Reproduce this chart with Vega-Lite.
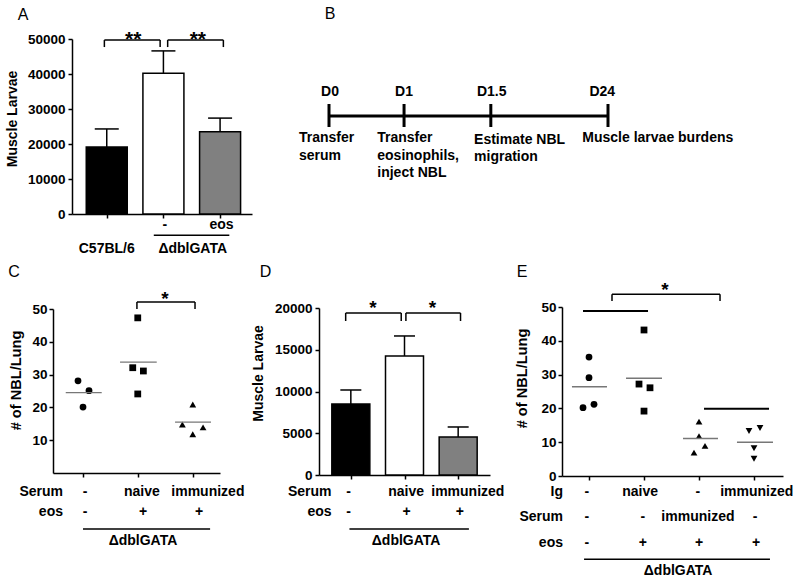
{
"$schema": "https://vega.github.io/schema/vega-lite/v6.json",
"width": 800, "height": 583, "autosize": {"type": "none"}, "padding": 0,
"config": {"view": {"stroke": null}, "font": "Liberation Sans",
 "axis": {"grid": false, "domainColor": "#000", "domainWidth": 1.5, "tickColor": "#000", "tickWidth": 1.5, "tickSize": 4,
  "labelFont": "Liberation Sans", "labelFontSize": 13.5, "labelFontWeight": "bold", "labelColor": "#000", "labelPadding": 2,
  "titleFont": "Liberation Sans", "titleFontSize": 14, "titleFontWeight": "bold", "titleColor": "#000"}},
"datasets": {
 "aBars": [{"g":"C57BL/6","x":1,"y":19140,"e":24300},{"g":"-","x":2,"y":40200,"e":46600},{"g":"eos","x":3,"y":23500,"e":27400}],
 "aBr": [{"x1":0.958,"x2":1.942,"yt":49700,"yb":47700},{"x1":2.075,"x2":3.058,"yt":49700,"yb":47700}],
 "aStar": [{"x":1.467,"y":49850,"t":"**"},{"x":2.608,"y":49850,"t":"**"}],
 "aTxt": [{"x":2.025,"y":-3140,"t":"-"},{"x":3.025,"y":-3140,"t":"eos"},{"x":1.0,"y":-9900,"t":"C57BL/6"},{"x":2.517,"y":-9900,"t":"ΔdblGATA"}],
 "aLine": [{"x1":1.83,"x2":3.163,"y":-6100}],
 "aLet": [{"x":-0.475,"y":56860,"t":"A"}],
 "bLine": [{"x1":0,"x2":100,"y":42}],
 "bTicks": [{"x":0,"y1":36.5,"y2":48},{"x":26.9,"y1":36.5,"y2":48},{"x":58.0,"y1":36.5,"y2":48},{"x":100,"y1":36.5,"y2":48}],
 "bLab": [{"x":0.36,"y":54,"t":"D0"},{"x":26.9,"y":54,"t":"D1"},{"x":58.3,"y":54,"t":"D1.5"},{"x":97.95,"y":54,"t":"D24"}],
 "bDesc": [{"x":-10.75,"y":31,"t":"Transfer"},{"x":-10.75,"y":22,"t":"serum"},{"x":17.3,"y":31,"t":"Transfer"},{"x":17.3,"y":22,"t":"eosinophils,"},{"x":17.3,"y":13.5,"t":"inject NBL"},{"x":52.0,"y":30,"t":"Estimate NBL"},{"x":52.0,"y":21.5,"t":"migration"},{"x":90.8,"y":31,"t":"Muscle larvae burdens"}],
 "bLet": [{"x":0.36,"y":93,"t":"B"}],
 "cPts": [{"x":0.909,"y":28.1,"s":"circle"},{"x":1.109,"y":25.1,"s":"circle"},{"x":1.0,"y":20.1,"s":"circle"},
  {"x":1.995,"y":47.3,"s":"square"},{"x":1.904,"y":32.1,"s":"square"},{"x":2.097,"y":31.1,"s":"square"},{"x":1.995,"y":24.1,"s":"square"},
  {"x":2.995,"y":20.9,"s":"triangle-up"},{"x":2.806,"y":14.8,"s":"triangle-up"},{"x":2.995,"y":11.8,"s":"triangle-up"},{"x":3.182,"y":13.9,"s":"triangle-up"}],
 "cMean": [{"x1":0.686,"x2":1.34,"y":24.5},{"x1":1.673,"x2":2.34,"y":33.8},{"x1":2.673,"x2":3.327,"y":15.5}],
 "cBr": [{"x1":1.98,"x2":3.036,"yt":52.1,"yb":50.0}],
 "cStar": [{"x":2.49,"y":53.2,"t":"*"}],
 "cRow": [{"x":0.636,"y":-5.8,"t":"Serum"},{"x":0.636,"y":-11.9,"t":"eos"}],
 "cTxt": [{"x":1.036,"y":-5.8,"t":"-"},{"x":2.07,"y":-5.8,"t":"naive"},{"x":3.27,"y":-5.8,"t":"immunized"},{"x":1.036,"y":-11.9,"t":"-"},{"x":2.09,"y":-11.9,"t":"+"},{"x":3.11,"y":-11.9,"t":"+"},{"x":2.09,"y":-20.7,"t":"ΔdblGATA"}],
 "cLine": [{"x1":1.0,"x2":3.31,"y":-17.1}],
 "cLet": [{"x":-0.255,"y":61.3,"t":"C"}],
 "dBars": [{"g":"a","x":1,"y":8500,"e":10180},{"g":"b","x":2,"y":14250,"e":16650},{"g":"c","x":3,"y":4550,"e":5750}],
 "dBr": [{"x1":0.904,"x2":1.939,"yt":19400,"yb":18440},{"x1":2.026,"x2":3.044,"yt":19400,"yb":18440}],
 "dStar": [{"x":1.41,"y":20000,"t":"*"},{"x":2.52,"y":20000,"t":"*"}],
 "dRow": [{"x":0.64,"y":-2040,"t":"Serum"},{"x":0.64,"y":-4430,"t":"eos"}],
 "dTxt": [{"x":0.956,"y":-2040,"t":"-"},{"x":2.03,"y":-2040,"t":"naive"},{"x":3.18,"y":-2040,"t":"immunized"},{"x":0.956,"y":-4430,"t":"-"},{"x":2.04,"y":-4430,"t":"+"},{"x":3.03,"y":-4430,"t":"+"},{"x":2.03,"y":-7900,"t":"ΔdblGATA"}],
 "dLine": [{"x1":0.974,"x2":3.2,"y":-6470}],
 "dLet": [{"x":-0.588,"y":24300,"t":"D"}],
 "ePts": [{"x":1.0,"y":35.2,"s":"circle"},{"x":1.0,"y":29.1,"s":"circle"},{"x":0.891,"y":20.2,"s":"circle"},{"x":1.091,"y":21.2,"s":"circle"},
  {"x":2.0,"y":43.2,"s":"square"},{"x":1.909,"y":27.2,"s":"square"},{"x":2.109,"y":26.1,"s":"square"},{"x":2.0,"y":19.2,"s":"square"},
  {"x":3.0,"y":16.1,"s":"triangle-up"},{"x":3.0,"y":11.8,"s":"triangle-up"},{"x":3.109,"y":8.9,"s":"triangle-up"},{"x":2.909,"y":6.9,"s":"triangle-up"},
  {"x":3.909,"y":13.3,"s":"triangle-down"},{"x":4.109,"y":14.2,"s":"triangle-down"},{"x":4.0,"y":8.2,"s":"triangle-down"},{"x":4.0,"y":5.1,"s":"triangle-down"}],
 "eMean": [{"x1":0.69,"x2":1.327,"y":26.4},{"x1":1.673,"x2":2.327,"y":28.9},{"x1":2.709,"x2":3.345,"y":11.1},{"x1":3.69,"x2":4.345,"y":10.0}],
 "eLines": [{"x1":0.891,"x2":2.073,"y":48.8},{"x1":3.091,"x2":4.273,"y":19.9}],
 "eLine": [{"x1":0.91,"x2":4.29,"y":-24.6}],
 "eBr": [{"x1":1.418,"x2":3.382,"yt":53.8,"yb":51.8}],
 "eStar": [{"x":2.38,"y":55.0,"t":"*"}],
 "eRow": [{"x":0.527,"y":-4.73,"t":"Ig"},{"x":0.527,"y":-12.1,"t":"Serum"},{"x":0.527,"y":-19.8,"t":"eos"}],
 "eTxt": [{"x":0.96,"y":-4.73,"t":"-"},{"x":1.93,"y":-4.73,"t":"naive"},{"x":2.98,"y":-4.73,"t":"-"},{"x":4.05,"y":-4.73,"t":"immunized"},
  {"x":0.96,"y":-12.1,"t":"-"},{"x":1.98,"y":-12.1,"t":"-"},{"x":2.98,"y":-12.1,"t":"immunized"},{"x":4.02,"y":-12.1,"t":"-"},
  {"x":0.96,"y":-19.8,"t":"-"},{"x":1.98,"y":-19.8,"t":"+"},{"x":3.0,"y":-19.8,"t":"+"},{"x":4.04,"y":-19.8,"t":"+"},
  {"x":2.62,"y":-28.1,"t":"ΔdblGATA"}],
 "eLet": [{"x":-0.218,"y":60.4,"t":"E"}]
},
"layer": [
 {"layer": [
  {"data":{"name":"aBars"},"mark":{"type":"bar","orient":"vertical","width":41,"stroke":"#000","strokeWidth":1.5},
   "encoding":{
    "x":{"field":"x","type":"quantitative","scale":{"domain":[0.475,3.475],"range":[72,252],"nice":false,"zero":false},
      "axis":{"orient":"bottom","offset":-369,"values":[1,2,3],"labels":false,"title":null}},
    "y":{"field":"y","type":"quantitative","scale":{"domain":[0,50000],"range":[214,39],"nice":false,"zero":true},
      "axis":{"orient":"left","offset":-72,"values":[0,10000,20000,30000,40000,50000],"format":"d","title":"Muscle Larvae","titleX":-60,"titleY":118.5,"titleAngle":-90,"titleAlign":"center","titleBaseline":"middle","labelPadding":3}},
    "fill":{"field":"g","type":"nominal","scale":{"domain":["C57BL/6","-","eos"],"range":["#000000","#ffffff","#808080"]},"legend":null}}},
  {"data":{"name":"aBars"},"mark":{"type":"rule","color":"#000","strokeWidth":1.5},
   "encoding":{"x":{"field":"x","type":"quantitative"},"y":{"field":"y","type":"quantitative"},"y2":{"field":"e"}}},
  {"data":{"name":"aBars"},"mark":{"type":"tick","orient":"horizontal","size":24,"thickness":1.5,"color":"#000","opacity":1},
   "encoding":{"x":{"field":"x","type":"quantitative"},"y":{"field":"e","type":"quantitative"}}},
  {"data":{"name":"aBr"},"mark":{"type":"rule","color":"#000","strokeWidth":1.5},
   "encoding":{"x":{"field":"x1","type":"quantitative"},"x2":{"field":"x2"},"y":{"field":"yt","type":"quantitative"}}},
  {"data":{"name":"aBr"},"mark":{"type":"rule","color":"#000","strokeWidth":1.5},
   "encoding":{"x":{"field":"x1","type":"quantitative"},"y":{"field":"yb","type":"quantitative"},"y2":{"field":"yt"}}},
  {"data":{"name":"aBr"},"mark":{"type":"rule","color":"#000","strokeWidth":1.5},
   "encoding":{"x":{"field":"x2","type":"quantitative"},"y":{"field":"yb","type":"quantitative"},"y2":{"field":"yt"}}},
  {"data":{"name":"aStar"},"mark":{"type":"text","fontSize":21,"fontWeight":"bold","align":"center","baseline":"middle","color":"#000"},
   "encoding":{"x":{"field":"x","type":"quantitative"},"y":{"field":"y","type":"quantitative"},"text":{"field":"t"}}},
  {"data":{"name":"aTxt"},"mark":{"type":"text","fontSize":14,"fontWeight":"bold","align":"center","baseline":"middle","color":"#000"},
   "encoding":{"x":{"field":"x","type":"quantitative"},"y":{"field":"y","type":"quantitative"},"text":{"field":"t"}}},
  {"data":{"name":"aLine"},"mark":{"type":"rule","color":"#000","strokeWidth":1.5},
   "encoding":{"x":{"field":"x1","type":"quantitative"},"x2":{"field":"x2"},"y":{"field":"y","type":"quantitative"}}},
  {"data":{"name":"aLet"},"mark":{"type":"text","fontSize":16,"fontWeight":"normal","align":"center","baseline":"middle","color":"#000"},
   "encoding":{"x":{"field":"x","type":"quantitative"},"y":{"field":"y","type":"quantitative"},"text":{"field":"t"}}}
 ]},
 {"layer": [
  {"data":{"name":"bLine"},"mark":{"type":"rule","color":"#000","strokeWidth":3},
   "encoding":{"x":{"field":"x1","type":"quantitative","scale":{"domain":[0,100],"range":[329,608],"nice":false,"zero":false},"axis":null},
    "x2":{"field":"x2"},
    "y":{"field":"y","type":"quantitative","scale":{"domain":[0,100],"range":[200,0],"nice":false,"zero":false},"axis":null}}},
  {"data":{"name":"bTicks"},"mark":{"type":"rule","color":"#000","strokeWidth":3},
   "encoding":{"x":{"field":"x","type":"quantitative","axis":null},"y":{"field":"y1","type":"quantitative","axis":null},"y2":{"field":"y2"}}},
  {"data":{"name":"bLab"},"mark":{"type":"text","fontSize":14,"fontWeight":"bold","align":"center","baseline":"middle","color":"#000"},
   "encoding":{"x":{"field":"x","type":"quantitative","axis":null},"y":{"field":"y","type":"quantitative","axis":null},"text":{"field":"t"}}},
  {"data":{"name":"bDesc"},"mark":{"type":"text","fontSize":14,"fontWeight":"bold","align":"left","baseline":"middle","color":"#000"},
   "encoding":{"x":{"field":"x","type":"quantitative","axis":null},"y":{"field":"y","type":"quantitative","axis":null},"text":{"field":"t"}}},
  {"data":{"name":"bLet"},"mark":{"type":"text","fontSize":16,"fontWeight":"normal","align":"center","baseline":"middle","color":"#000"},
   "encoding":{"x":{"field":"x","type":"quantitative","axis":null},"y":{"field":"y","type":"quantitative","axis":null},"text":{"field":"t"}}}
 ]},
 {"layer": [
  {"data":{"name":"cPts"},"mark":{"type":"point","filled":true,"opacity":1,"color":"#000","size":46,"strokeWidth":0},
   "encoding":{
    "x":{"field":"x","type":"quantitative","scale":{"domain":[0.4545,3.49],"range":[53,220],"nice":false,"zero":false},
      "axis":{"orient":"bottom","offset":-110,"values":[1,2,3],"labels":false,"title":null}},
    "y":{"field":"y","type":"quantitative","scale":{"domain":[0,50],"range":[473,309],"nice":false,"zero":true},
      "axis":{"orient":"left","offset":-53,"values":[10,20,30,40,50],"format":"d","title":"# of NBL/Lung","titleFontSize":14.6,"titleX":-36.5,"titleY":380,"titleAngle":-90,"titleAlign":"center","titleBaseline":"middle"}},
    "shape":{"field":"s","type":"nominal","scale":{"domain":["circle","square","triangle-up"],"range":["circle","square","triangle-up"]},"legend":null}}},
  {"data":{"name":"cMean"},"mark":{"type":"rule","color":"#777","strokeWidth":1.4},
   "encoding":{"x":{"field":"x1","type":"quantitative"},"x2":{"field":"x2"},"y":{"field":"y","type":"quantitative"}}},
  {"data":{"name":"cBr"},"mark":{"type":"rule","color":"#000","strokeWidth":1.5},
   "encoding":{"x":{"field":"x1","type":"quantitative"},"x2":{"field":"x2"},"y":{"field":"yt","type":"quantitative"}}},
  {"data":{"name":"cBr"},"mark":{"type":"rule","color":"#000","strokeWidth":1.5},
   "encoding":{"x":{"field":"x1","type":"quantitative"},"y":{"field":"yb","type":"quantitative"},"y2":{"field":"yt"}}},
  {"data":{"name":"cBr"},"mark":{"type":"rule","color":"#000","strokeWidth":1.5},
   "encoding":{"x":{"field":"x2","type":"quantitative"},"y":{"field":"yb","type":"quantitative"},"y2":{"field":"yt"}}},
  {"data":{"name":"cStar"},"mark":{"type":"text","fontSize":19,"fontWeight":"bold","align":"center","baseline":"middle","color":"#000"},
   "encoding":{"x":{"field":"x","type":"quantitative"},"y":{"field":"y","type":"quantitative"},"text":{"field":"t"}}},
  {"data":{"name":"cRow"},"mark":{"type":"text","fontSize":14,"fontWeight":"bold","align":"right","baseline":"middle","color":"#000"},
   "encoding":{"x":{"field":"x","type":"quantitative"},"y":{"field":"y","type":"quantitative"},"text":{"field":"t"}}},
  {"data":{"name":"cTxt"},"mark":{"type":"text","fontSize":14,"fontWeight":"bold","align":"center","baseline":"middle","color":"#000"},
   "encoding":{"x":{"field":"x","type":"quantitative"},"y":{"field":"y","type":"quantitative"},"text":{"field":"t"}}},
  {"data":{"name":"cLine"},"mark":{"type":"rule","color":"#000","strokeWidth":1.5},
   "encoding":{"x":{"field":"x1","type":"quantitative"},"x2":{"field":"x2"},"y":{"field":"y","type":"quantitative"}}},
  {"data":{"name":"cLet"},"mark":{"type":"text","fontSize":16,"fontWeight":"normal","align":"center","baseline":"middle","color":"#000"},
   "encoding":{"x":{"field":"x","type":"quantitative"},"y":{"field":"y","type":"quantitative"},"text":{"field":"t"}}}
 ]},
 {"layer": [
  {"data":{"name":"dBars"},"mark":{"type":"bar","orient":"vertical","width":38,"stroke":"#000","strokeWidth":1.5},
   "encoding":{
    "x":{"field":"x","type":"quantitative","scale":{"domain":[0.5,3.5],"range":[319,490],"nice":false,"zero":false},
      "axis":{"orient":"bottom","offset":-108,"values":[1,2,3],"labels":false,"title":null}},
    "y":{"field":"y","type":"quantitative","scale":{"domain":[0,20000],"range":[475,308],"nice":false,"zero":true},
      "axis":{"orient":"left","offset":-319,"values":[0,5000,10000,15000,20000],"format":"d","title":"Muscle Larvae","titleX":-61,"titleY":373,"titleAngle":-90,"titleAlign":"center","titleBaseline":"middle","labelPadding":3}},
    "fill":{"field":"g","type":"nominal","scale":{"domain":["a","b","c"],"range":["#000000","#ffffff","#808080"]},"legend":null}}},
  {"data":{"name":"dBars"},"mark":{"type":"rule","color":"#000","strokeWidth":1.5},
   "encoding":{"x":{"field":"x","type":"quantitative"},"y":{"field":"y","type":"quantitative"},"y2":{"field":"e"}}},
  {"data":{"name":"dBars"},"mark":{"type":"tick","orient":"horizontal","size":21,"thickness":1.5,"color":"#000","opacity":1},
   "encoding":{"x":{"field":"x","type":"quantitative"},"y":{"field":"e","type":"quantitative"}}},
  {"data":{"name":"dBr"},"mark":{"type":"rule","color":"#000","strokeWidth":1.5},
   "encoding":{"x":{"field":"x1","type":"quantitative"},"x2":{"field":"x2"},"y":{"field":"yt","type":"quantitative"}}},
  {"data":{"name":"dBr"},"mark":{"type":"rule","color":"#000","strokeWidth":1.5},
   "encoding":{"x":{"field":"x1","type":"quantitative"},"y":{"field":"yb","type":"quantitative"},"y2":{"field":"yt"}}},
  {"data":{"name":"dBr"},"mark":{"type":"rule","color":"#000","strokeWidth":1.5},
   "encoding":{"x":{"field":"x2","type":"quantitative"},"y":{"field":"yb","type":"quantitative"},"y2":{"field":"yt"}}},
  {"data":{"name":"dStar"},"mark":{"type":"text","fontSize":19,"fontWeight":"bold","align":"center","baseline":"middle","color":"#000"},
   "encoding":{"x":{"field":"x","type":"quantitative"},"y":{"field":"y","type":"quantitative"},"text":{"field":"t"}}},
  {"data":{"name":"dRow"},"mark":{"type":"text","fontSize":14,"fontWeight":"bold","align":"right","baseline":"middle","color":"#000"},
   "encoding":{"x":{"field":"x","type":"quantitative"},"y":{"field":"y","type":"quantitative"},"text":{"field":"t"}}},
  {"data":{"name":"dTxt"},"mark":{"type":"text","fontSize":14,"fontWeight":"bold","align":"center","baseline":"middle","color":"#000"},
   "encoding":{"x":{"field":"x","type":"quantitative"},"y":{"field":"y","type":"quantitative"},"text":{"field":"t"}}},
  {"data":{"name":"dLine"},"mark":{"type":"rule","color":"#000","strokeWidth":1.5},
   "encoding":{"x":{"field":"x1","type":"quantitative"},"x2":{"field":"x2"},"y":{"field":"y","type":"quantitative"}}},
  {"data":{"name":"dLet"},"mark":{"type":"text","fontSize":16,"fontWeight":"normal","align":"center","baseline":"middle","color":"#000"},
   "encoding":{"x":{"field":"x","type":"quantitative"},"y":{"field":"y","type":"quantitative"},"text":{"field":"t"}}}
 ]},
 {"layer": [
  {"data":{"name":"ePts"},"mark":{"type":"point","filled":true,"opacity":1,"color":"#000","size":46,"strokeWidth":0},
   "encoding":{
    "x":{"field":"x","type":"quantitative","scale":{"domain":[0.509,4.527],"range":[562,783],"nice":false,"zero":false},
      "axis":{"orient":"bottom","offset":-107,"values":[1,2,3,4],"labels":false,"title":null}},
    "y":{"field":"y","type":"quantitative","scale":{"domain":[0,50],"range":[476,307],"nice":false,"zero":true},
      "axis":{"orient":"left","offset":-562,"values":[0,10,20,30,40,50],"format":"d","title":"# of NBL/Lung","titleFontSize":14.6,"titleX":-39.5,"titleY":378,"titleAngle":-90,"titleAlign":"center","titleBaseline":"middle"}},
    "shape":{"field":"s","type":"nominal","scale":{"domain":["circle","square","triangle-up","triangle-down"],"range":["circle","square","triangle-up","triangle-down"]},"legend":null}}},
  {"data":{"name":"eMean"},"mark":{"type":"rule","color":"#777","strokeWidth":1.4},
   "encoding":{"x":{"field":"x1","type":"quantitative"},"x2":{"field":"x2"},"y":{"field":"y","type":"quantitative"}}},
  {"data":{"name":"eLines"},"mark":{"type":"rule","color":"#000","strokeWidth":2},
   "encoding":{"x":{"field":"x1","type":"quantitative"},"x2":{"field":"x2"},"y":{"field":"y","type":"quantitative"}}},
  {"data":{"name":"eBr"},"mark":{"type":"rule","color":"#000","strokeWidth":1.5},
   "encoding":{"x":{"field":"x1","type":"quantitative"},"x2":{"field":"x2"},"y":{"field":"yt","type":"quantitative"}}},
  {"data":{"name":"eBr"},"mark":{"type":"rule","color":"#000","strokeWidth":1.5},
   "encoding":{"x":{"field":"x1","type":"quantitative"},"y":{"field":"yb","type":"quantitative"},"y2":{"field":"yt"}}},
  {"data":{"name":"eBr"},"mark":{"type":"rule","color":"#000","strokeWidth":1.5},
   "encoding":{"x":{"field":"x2","type":"quantitative"},"y":{"field":"yb","type":"quantitative"},"y2":{"field":"yt"}}},
  {"data":{"name":"eStar"},"mark":{"type":"text","fontSize":19,"fontWeight":"bold","align":"center","baseline":"middle","color":"#000"},
   "encoding":{"x":{"field":"x","type":"quantitative"},"y":{"field":"y","type":"quantitative"},"text":{"field":"t"}}},
  {"data":{"name":"eRow"},"mark":{"type":"text","fontSize":14,"fontWeight":"bold","align":"right","baseline":"middle","color":"#000"},
   "encoding":{"x":{"field":"x","type":"quantitative"},"y":{"field":"y","type":"quantitative"},"text":{"field":"t"}}},
  {"data":{"name":"eTxt"},"mark":{"type":"text","fontSize":14,"fontWeight":"bold","align":"center","baseline":"middle","color":"#000"},
   "encoding":{"x":{"field":"x","type":"quantitative"},"y":{"field":"y","type":"quantitative"},"text":{"field":"t"}}},
  {"data":{"name":"eLine"},"mark":{"type":"rule","color":"#000","strokeWidth":1.5},
   "encoding":{"x":{"field":"x1","type":"quantitative"},"x2":{"field":"x2"},"y":{"field":"y","type":"quantitative"}}},
  {"data":{"name":"eLet"},"mark":{"type":"text","fontSize":16,"fontWeight":"normal","align":"center","baseline":"middle","color":"#000"},
   "encoding":{"x":{"field":"x","type":"quantitative"},"y":{"field":"y","type":"quantitative"},"text":{"field":"t"}}}
 ]}
],
"resolve": {"scale": {"x": "independent", "y": "independent", "fill": "independent", "shape": "independent"}}
}
